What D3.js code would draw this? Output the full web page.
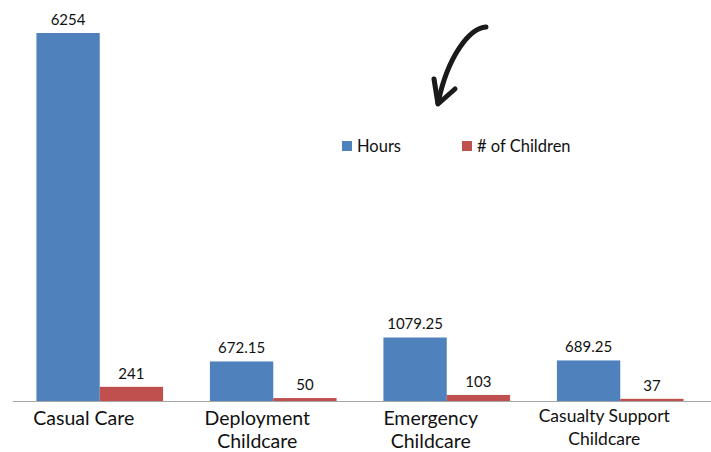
<!DOCTYPE html>
<html>
<head>
<meta charset="utf-8">
<script src="https://cdn.jsdelivr.net/npm/d3@7"></script>
<style>
  html, body { margin: 0; padding: 0; background: #fff; }
  svg { display: block; font-family: Lato, "Open Sans", sans-serif; }
</style>
</head>
<body>
<svg id="chart" width="711" height="452"></svg>
<script>
// Childcare usage by program
const categories = [["Casual Care"], ["Deployment", "Childcare"], ["Emergency", "Childcare"], ["Casualty Support", "Childcare"]];
const seriesNames = ["Hours", "# of Children"];
const hours = [6254, 672.15, 1079.25, 689.25];
const children = [241, 50, 103, 37];
const labels = [["6254", "672.15", "1079.25", "689.25"], ["241", "50", "103", "37"]];
const colors = ["#4f81bd", "#c0504d"];

const svg = d3.select("#chart");
const baseline = 401;

const x = d3.scaleBand().domain(d3.range(categories.length)).range([13, 707]).paddingInner(0.27).paddingOuter(0.135);
const xs = d3.scaleBand().domain([0, 1]).range([0, x.bandwidth()]);
const y = d3.scaleLinear().domain([0, 6254]).range([baseline, 33]);

const series = [hours, children];

const groups = svg.append("g").selectAll("g")
  .data(series).join("g")
  .attr("fill", (d, i) => colors[i]);

groups.each(function(vals, si) {
  const g = d3.select(this);
  g.selectAll("rect").data(vals).join("rect")
    .attr("x", (d, i) => x(i) + xs(si))
    .attr("width", xs.bandwidth())
    .attr("y", d => y(d))
    .attr("height", d => baseline - y(d));
  g.selectAll("text").data(vals).join("text")
    .attr("x", (d, i) => x(i) + xs(si) + xs.bandwidth() / 2)
    .attr("y", d => y(d) - 8)
    .attr("text-anchor", "middle")
    .attr("font-size", 15)
    .attr("fill", "#111")
    .text((d, i) => labels[si][i]);
});

// category axis line
svg.append("line")
  .attr("x1", 13).attr("x2", 711)
  .attr("y1", baseline + 0.5).attr("y2", baseline + 0.5)
  .attr("stroke", "#a6a6a6").attr("stroke-width", 1.2);

// category labels, set slightly left of each group's centre
const catG = svg.append("g");
categories.forEach((lines, i) => {
  const cx = x(i) + x.bandwidth() / 2 - 16;
  const small = i === 3;
  const t = catG.append("text")
    .attr("text-anchor", "middle")
    .attr("font-size", small ? 17.5 : 19.5)
    .attr("fill", "#111");
  lines.forEach((ln, k) => {
    t.append("tspan")
      .attr("x", cx)
      .attr("y", small ? 422 + k * 23 : 425 + k * 23)
      .text(ln);
  });
});

// legend
const legend = svg.append("g");
const legendPos = [342, 462];
seriesNames.forEach((name, i) => {
  legend.append("rect")
    .attr("x", legendPos[i]).attr("y", 141)
    .attr("width", 10).attr("height", 10)
    .attr("fill", colors[i]);
  legend.append("text")
    .attr("x", legendPos[i] + 15).attr("y", 151.5)
    .attr("font-size", 16.5)
    .attr("fill", "#111")
    .text(name);
});

// hand-drawn pointer arrow
const arrow = svg.append("g")
  .attr("fill", "none").attr("stroke", "#1a1a1a")
  .attr("stroke-linecap", "round").attr("stroke-linejoin", "round");
arrow.append("path")
  .attr("d", "M486,27 C470,28 448,55 438,103")
  .attr("stroke-width", 5);
arrow.append("path")
  .attr("d", "M434,79 L438,104 L455,89")
  .attr("stroke-width", 5);
</script>
</body>
</html>
